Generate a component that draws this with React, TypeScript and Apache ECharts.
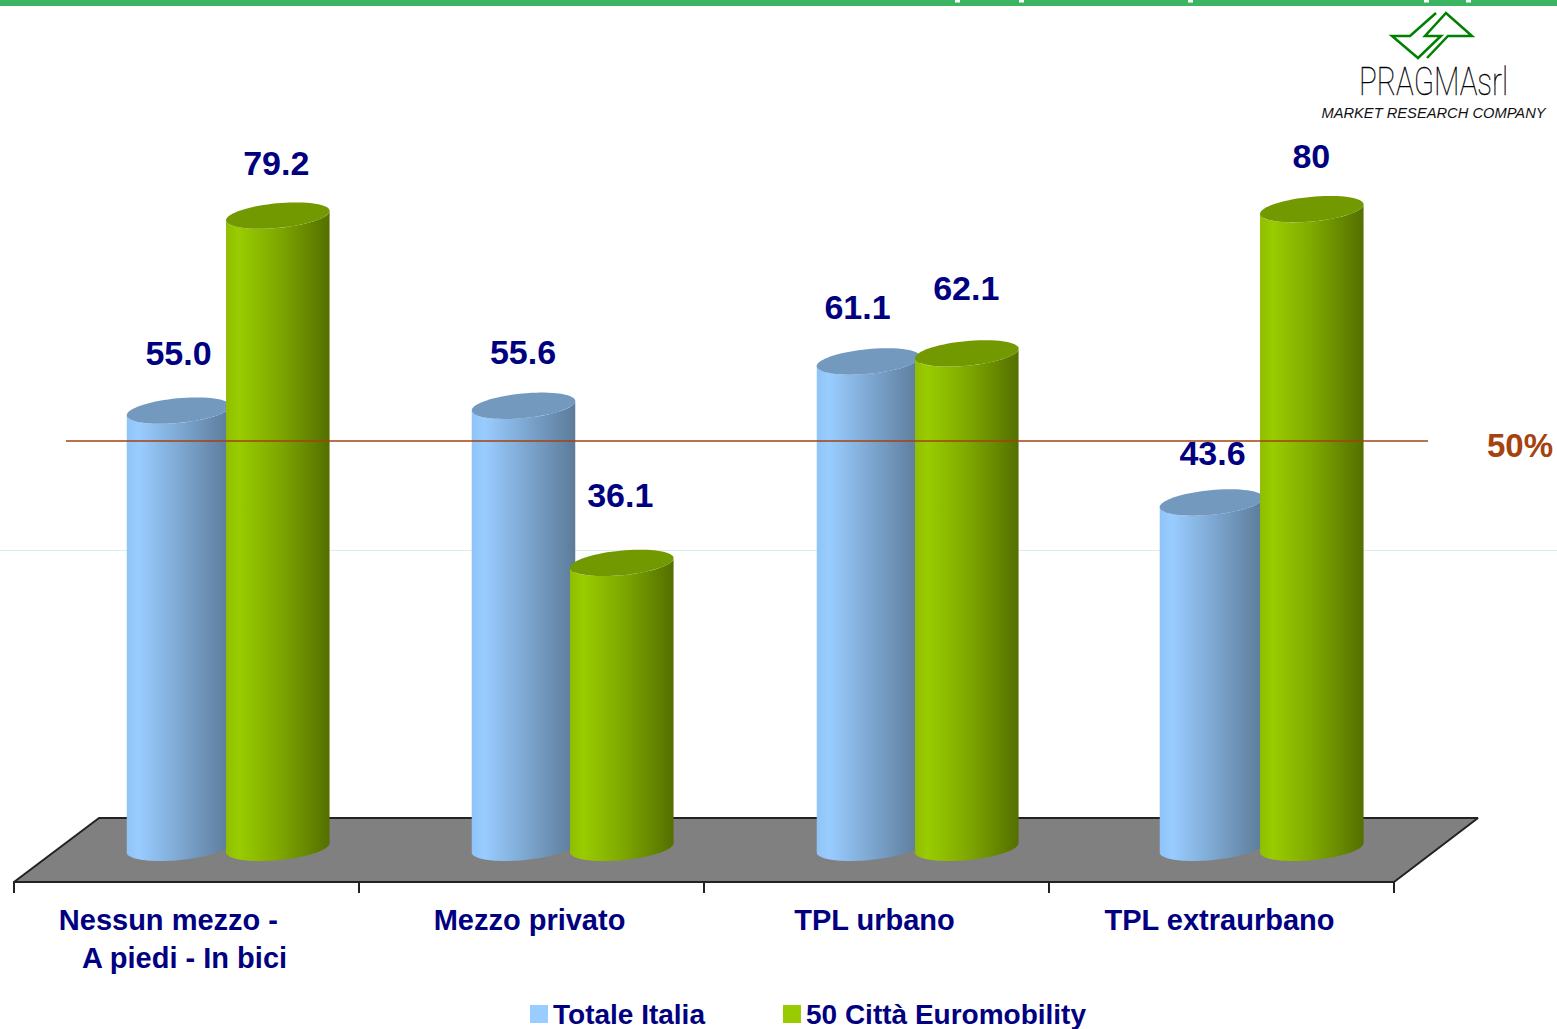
import React, { useEffect, useRef } from "react";
import * as echarts from "echarts";

const categories = ["Nessun mezzo -    \nA piedi - In bici", "Mezzo privato", "TPL urbano", "TPL extraurbano"];
const seriesNames = ["Totale Italia", "50 Città Euromobility"];
const totaleItalia = [55.0, 55.6, 61.1, 43.6];
const euromobility = [79.2, 36.1, 62.1, 80];
const totaleLabels = ["55.0", "55.6", "61.1", "43.6"];
const euromobilityLabels = ["79.2", "36.1", "62.1", "80"];

const labelLiftBlue = [58, 54, 54, 49];
const labelLiftGreen = [53, 68, 65, 53];
const labelShiftBlue = [0, -0.5, -11, 1];
const labelShiftGreen = [-1.5, -1.5, -0.5, -0.5];
const groupNudgeBlue = [0, 0, 0, -2];
const groupNudgeGreen = [0, -1, -1, -1];

const FONT = "Liberation Sans";
const NAVY = "#000080";
const TILT = (5.5 * Math.PI) / 180;
const RX = 52;
const RY = 12.3;

function rim(cx: number, cy: number, from: number, to: number, steps: number) {
  const pts: number[][] = [];
  for (let i = 0; i <= steps; i++) {
    const th = ((from + ((to - from) * i) / steps) * Math.PI) / 180;
    const x = RX * Math.cos(th);
    const y = RY * Math.sin(th);
    pts.push([cx + x * Math.cos(TILT) + y * Math.sin(TILT), cy - x * Math.sin(TILT) + y * Math.cos(TILT)]);
  }
  return pts;
}

function cylinderItem(opts: any) {
  const { offset, nudge, top, stops, labels, lift, shift } = opts;
  return (params: any, api: any) => {
    const idx = api.value(0);
    const v = api.value(1);
    const t = api.coord([idx, v]);
    const base = api.coord([idx, 0]);
    const cx = t[0] + offset + nudge[params.dataIndex];
    const yT = t[1];
    const yB = base[1] - 6;
    const bottomRim = rim(cx, yB, 180, 0, 40);
    const topRim = rim(cx, yT, 0, 180, 40);
    return {
      type: "group",
      children: [
        {
          type: "polygon",
          shape: { points: [...bottomRim, ...topRim] },
          style: { fill: new echarts.graphic.LinearGradient(0, 0, 1, 0, stops) },
        },
        { type: "polygon", shape: { points: rim(cx, yT, 0, 360, 72) }, style: { fill: top } },
        {
          type: "text",
          x: cx + shift[params.dataIndex],
          y: yT - lift[params.dataIndex],
          style: {
            text: labels[params.dataIndex],
            fill: NAVY,
            font: `bold 34px "${FONT}"`,
            textAlign: "center",
            textVerticalAlign: "middle",
          },
        },
      ],
    };
  };
}

export default function App() {
  const ref = useRef<HTMLDivElement>(null);
  useEffect(() => {
    document.body.style.margin = "0";
    const chart = echarts.init(ref.current!, null, { renderer: "svg" });
    const green = "#008000";
    chart.setOption({
      animation: false,
      backgroundColor: "#ffffff",
      grid: { left: 14, right: 163, top: 48, bottom: 147 },
      xAxis: {
        type: "category",
        data: categories,
        axisLine: { show: true, onZero: false, lineStyle: { color: "#222222", width: 2 } },
        axisTick: { show: true, alignWithLabel: false, length: 11, lineStyle: { color: "#222222", width: 2 } },
        axisLabel: {
          color: NAVY,
          fontFamily: FONT,
          fontWeight: "bold",
          fontSize: 29,
          lineHeight: 38,
          margin: 19,
          padding: [0, 4, 0, 0],
          interval: 0,
        },
      },
      yAxis: { type: "value", min: -3.5, max: 100, show: false },
      legend: {
        left: 525,
        top: 995,
        itemWidth: 18,
        itemHeight: 18,
        itemGap: 78,
        selectedMode: false,
        icon: "rect",
        data: seriesNames,
        textStyle: { color: NAVY, fontFamily: FONT, fontWeight: "bold", fontSize: 28 },
      },
      graphic: {
        elements: [
          { type: "rect", z: 0, shape: { x: 0, y: 0, width: 1557, height: 6 }, style: { fill: "#3cb563" } },
          ...[955, 1019, 1188, 1424, 1466].map((x) => ({
            type: "rect",
            z: 1,
            shape: { x, y: 0, width: 5, height: 2.5 },
            style: { fill: "#ffffff" },
          })),
          { type: "line", z: 0, shape: { x1: 0, y1: 550.5, x2: 1557, y2: 550.5 }, style: { stroke: "#d9efea", lineWidth: 1 } },
          {
            type: "polygon",
            z: 0,
            shape: { points: [[14, 882], [99, 818], [1478, 818], [1394, 882]] },
            style: { fill: "#808080", stroke: "#222222", lineWidth: 2, lineJoin: "bevel" },
          },
          { type: "line", z: 50, shape: { x1: 66, y1: 441, x2: 1428, y2: 441 }, style: { stroke: "#a5420f", lineWidth: 1.6 } },
          {
            type: "text",
            z: 50,
            x: 1520,
            y: 445,
            style: { text: "50%", fill: "#a5420f", font: `bold 33px "${FONT}"`, textAlign: "center", textVerticalAlign: "middle" },
          },
          {
            type: "polyline",
            z: 50,
            shape: { points: [[1436, 13], [1410, 36], [1392, 36], [1418, 58], [1441, 36], [1425, 36], [1446, 13], [1472, 36], [1448, 36], [1427, 58]] },
            style: { stroke: green, lineWidth: 2.5, fill: "none" },
          },
          {
            type: "text",
            z: 50,
            x: 1433.5,
            y: 81.5,
            scaleX: 0.78,
            style: { text: "PRAGMAsrl", fill: "#000000", stroke: "#000000", lineWidth: 0.3, font: '100 38px "Roboto"', textAlign: "center", textVerticalAlign: "middle" },
          },
          {
            type: "text",
            z: 50,
            x: 1433.5,
            y: 112.5,
            style: { text: "MARKET RESEARCH COMPANY", fill: "#111111", font: `italic 14.7px "${FONT}"`, textAlign: "center", textVerticalAlign: "middle" },
          },
        ],
      },
      series: [
        {
          name: seriesNames[0],
          type: "custom",
          z: 3,
          itemStyle: { color: "#99ccff" },
          data: totaleItalia.map((v, i) => [i, v]),
          renderItem: cylinderItem({
            offset: -8,
            nudge: groupNudgeBlue,
            top: "#7399bf",
            stops: [
              { offset: 0, color: "#90c4f7" },
              { offset: 0.12, color: "#99ccff" },
              { offset: 0.5, color: "#7ea9d3" },
              { offset: 1, color: "#5c7b99" },
            ],
            labels: totaleLabels,
            lift: labelLiftBlue,
            shift: labelShiftBlue,
          }),
        },
        {
          name: seriesNames[1],
          type: "custom",
          z: 4,
          itemStyle: { color: "#99cc00" },
          data: euromobility.map((v, i) => [i, v]),
          renderItem: cylinderItem({
            offset: 91.3,
            nudge: groupNudgeGreen,
            top: "#739900",
            stops: [
              { offset: 0, color: "#8fbe00" },
              { offset: 0.12, color: "#99cc00" },
              { offset: 0.5, color: "#7fa900" },
              { offset: 1, color: "#546f00" },
            ],
            labels: euromobilityLabels,
            lift: labelLiftGreen,
            shift: labelShiftGreen,
          }),
        },
      ],
    });
    return () => chart.dispose();
  }, []);
  return <div ref={ref} style={{ position: "absolute", left: 0, top: 0, width: 1557, height: 1029 }} />;
}
